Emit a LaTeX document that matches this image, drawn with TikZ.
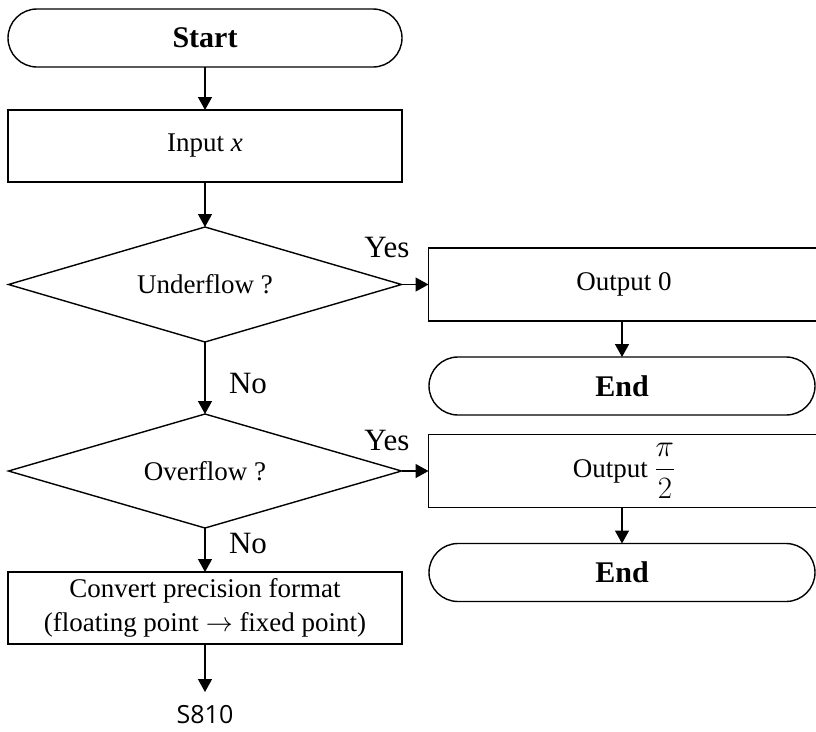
\RequirePackage{fix-cm}
\documentclass[tikz,border=0pt]{standalone}
\usepackage{amsmath}
\usepackage{fontspec}
\setmainfont{Liberation Serif}
\newfontfamily\stepfont{Open Sans}
\usetikzlibrary{arrows.meta,positioning,shapes.geometric,shapes.misc}

\begin{document}
\begin{tikzpicture}[
    x=1pt, y=-1pt,
    line width=1.4pt,
    every node/.style={outer sep=0pt},
    box/.style={draw, rectangle, inner sep=0pt, align=center,
                minimum width=394pt, minimum height=72pt,
                font=\fontsize{27}{34}\selectfont},
    outbox/.style={box, minimum width=391pt, minimum height=73pt},
    term/.style={draw, rounded rectangle, inner sep=0pt,
                 minimum width=394pt, minimum height=58pt,
                 font=\fontsize{30}{36}\selectfont\bfseries},
    decision/.style={draw, diamond, aspect=3.4, inner sep=0pt,
                     minimum width=393pt, minimum height=115pt,
                     font=\fontsize{27}{34}\selectfont},
    lbl/.style={inner sep=0pt, font=\fontsize{31}{36}\selectfont},
    arr/.style={-{Triangle[length=13pt, width=14pt]}, line width=1.4pt}
]
\useasboundingbox (0,0) rectangle (816,731);

% main column
\node[term] (start) at (205,38) {Start};

\node[box, below=43pt of start] (input) {Input \textit{x}};

\node[decision, below=45pt of input] (under) {Underflow ?};

\node[decision, below=72pt of under, minimum height=114pt] (over)
    {Overflow ?};

\node[box, below=44pt of over] (conv)
    {Convert precision format\\
     (floating point $\rightarrow$ fixed point)};

\node[below=61pt of conv, inner sep=0pt,
      font=\stepfont\fontsize{25}{30}\selectfont] (s810) {S810};

% right column
\node[outbox, right=27pt of under] (out0) {Output 0};
\node[term, minimum width=386pt, below=36pt of out0, xshift=-2pt] (end1) {End};

\node[outbox, right=27pt of over] (outpi)
    {Output {\fontsize{31}{36}\selectfont$\dfrac{\pi}{2}$}};
\node[term, minimum width=386pt, below=36pt of outpi, xshift=-2pt] (end2) {End};

\draw[arr] (start) -- (input);
\draw[arr] (input) -- (under);
\draw[arr] (under) -- node[lbl, pos=0.71, anchor=base west, xshift=24pt]
    (no1) {No} (over);
\draw[arr] (over) -- node[lbl, pos=0.57, anchor=base west, xshift=24pt]
    (no2) {No} (conv);
\draw[arr, shorten >=13pt] (conv) -- (s810);

\draw[arr] (under) -- (out0);
\draw[arr] (over) -- (outpi);
\node[lbl, anchor=base east] (yes1) at ([xshift=8pt, yshift=27pt]under.east) {Yes};
\node[lbl, anchor=base east] (yes2) at ([xshift=8pt, yshift=21pt]over.east) {Yes};

\draw[arr] (end1.north |- out0.south) -- (end1);
\draw[arr] (end2.north |- outpi.south) -- (end2);

\end{tikzpicture}
\end{document}
